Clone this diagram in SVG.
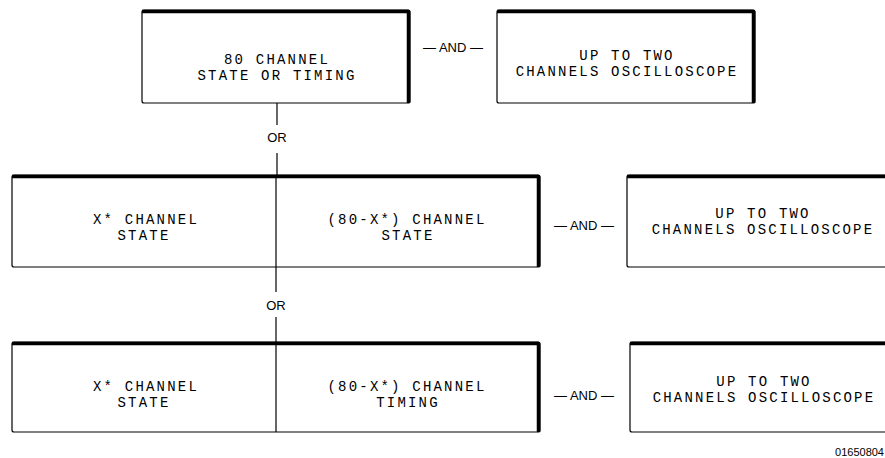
<svg xmlns="http://www.w3.org/2000/svg" width="885" height="458" viewBox="0 0 885 458">
<style>
.box{fill:#fff;stroke:#000;stroke-width:1.2}
.edge{fill:none;stroke:#000;stroke-width:3.5;stroke-linejoin:round}
.div{stroke:#000;stroke-width:1.2}
.t{font-family:"Liberation Mono","DejaVu Sans Mono",monospace;font-size:14px;letter-spacing:2.2px;text-anchor:middle;fill:#000}
.s{font-family:"Liberation Sans",Arial,sans-serif;font-size:13px;text-anchor:middle;fill:#000}
.c{stroke:#000;stroke-width:1.2;fill:none}
</style>
<rect width="885" height="458" fill="#fff"/>
<g id="n80">
<rect class="box" x="142" y="10" width="268" height="93" rx="2"/>
<path class="edge" d="M142,11.5 L408.5,11.5 L408.5,103"/>
<text class="t" x="277" y="64">80 CHANNEL</text>
<text class="t" x="277" y="80">STATE OR TIMING</text>
</g>
<g id="scope1">
<rect class="box" x="497" y="10" width="258" height="93" rx="2"/>
<path class="edge" d="M497,11.5 L753.5,11.5 L753.5,103"/>
<text class="t" x="627" y="60">UP TO TWO</text>
<text class="t" x="627" y="76">CHANNELS OSCILLOSCOPE</text>
</g>
<g id="split1">
<rect class="box" x="12" y="175" width="528" height="92" rx="2"/>
<path class="edge" d="M12,176.5 L538.5,176.5 L538.5,267"/>
<line class="div" x1="276" y1="175" x2="276" y2="267"/>
<text class="t" x="146" y="224">X* CHANNEL</text>
<text class="t" x="144" y="240">STATE</text>
<text class="t" x="407" y="224">(80-X*) CHANNEL</text>
<text class="t" x="408" y="240">STATE</text>
</g>
<g id="scope2">
<rect class="box" x="627" y="175" width="270" height="92" rx="2"/>
<path class="edge" d="M627,176.5 L897,176.5"/>
<text class="t" x="763" y="218">UP TO TWO</text>
<text class="t" x="763" y="234">CHANNELS OSCILLOSCOPE</text>
</g>
<g id="split2">
<rect class="box" x="12" y="342" width="528" height="90" rx="2"/>
<path class="edge" d="M12,343.5 L538.5,343.5 L538.5,432"/>
<line class="div" x1="276" y1="342" x2="276" y2="432"/>
<text class="t" x="146" y="391">X* CHANNEL</text>
<text class="t" x="144" y="407">STATE</text>
<text class="t" x="407" y="391">(80-X*) CHANNEL</text>
<text class="t" x="408" y="407">TIMING</text>
</g>
<g id="scope3">
<rect class="box" x="630" y="342" width="270" height="90" rx="2"/>
<path class="edge" d="M630,343.5 L900,343.5"/>
<text class="t" x="764" y="386">UP TO TWO</text>
<text class="t" x="764" y="402">CHANNELS OSCILLOSCOPE</text>
</g>
<g id="connectors">
<line class="c" x1="277" y1="103" x2="277" y2="125"/>
<line class="c" x1="277" y1="153" x2="277" y2="175"/>
<line class="c" x1="276" y1="267" x2="276" y2="292"/>
<line class="c" x1="276" y1="317" x2="276" y2="342"/>
<text class="s" x="277" y="142">OR</text>
<text class="s" x="276" y="310">OR</text>
<text class="s" x="453" y="52">— AND —</text>
<text class="s" x="584" y="230">— AND —</text>
<text class="s" x="584" y="400">— AND —</text>
</g>
<text x="884" y="456" font-family="Liberation Sans, Arial, sans-serif" font-size="11" text-anchor="end">01650804</text>
</svg>
